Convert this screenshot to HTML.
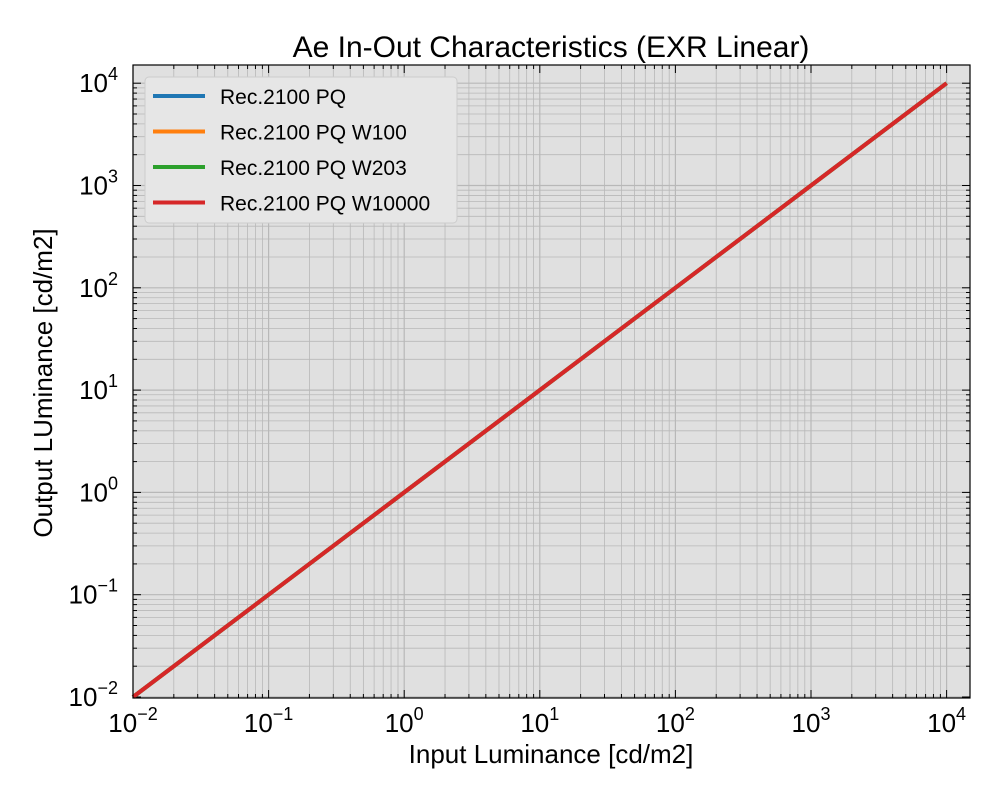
<!DOCTYPE html>
<html><head><meta charset="utf-8"><style>body{margin:0;background:#fff}svg{display:block;font-family:"Liberation Sans","Noto Sans CJK JP",sans-serif}</style></head>
<body>
<svg id="c" width="1000" height="800"></svg>
<script>
const xDecades=[-2,-1,0,1,2,3,4];
const yDecades=[-2,-1,0,1,2,3,4];
const seriesNames=["Rec.2100 PQ","Rec.2100 PQ W100","Rec.2100 PQ W203","Rec.2100 PQ W10000"];
const seriesColors=["#1f77b4","#ff7f0e","#2ca02c","#d62728"];
const inputVals=[0.01,0.1,1,10,100,1000,10000];
const outputVals=[0.01,0.1,1,10,100,1000,10000];
const L=133,R=970,T=65,B=698;
const xs=v=>133+(Math.log10(v)+2)*135.6;
const ys=v=>697-(Math.log10(v)+2)*102.3;
const s=document.getElementById('c');const NS="http://www.w3.org/2000/svg";
function el(t,a,p){const e=document.createElementNS(NS,t);for(const k in a)e.setAttribute(k,a[k]);(p||s).appendChild(e);return e;}
let bg=el('rect',{x:L,y:T,width:R-L,height:B-T,fill:'#e0e0e0'});


const g=el('g',{});


for(let d=-2;d<=4;d++)for(let m=1;m<=9;m++){const v=m*Math.pow(10,d);
 const x=xs(v);if(x<=R&&x>=L){el('line',{x1:x,x2:x,y1:T,y2:B,stroke:'#b8b8b8','stroke-width':m==1?1.2:0.8},g);
  el('line',{x1:x,x2:x,y1:B,y2:B-(m==1?8:4),stroke:'#000'},g);el('line',{x1:x,x2:x,y1:T,y2:T+(m==1?8:4),stroke:'#000'},g);}
 const y=ys(v);if(y>=T&&y<=B){el('line',{x1:L,x2:R,y1:y,y2:y,stroke:'#b8b8b8','stroke-width':m==1?1.2:0.8},g);
  el('line',{x1:L,x2:L+(m==1?8:4),y1:y,y2:y,stroke:'#000'},g);el('line',{x1:R,x2:R-(m==1?8:4),y1:y,y2:y,stroke:'#000'},g);}
}
seriesNames.forEach((n,i)=>{const p=el('polyline',{points:inputVals.map((v,j)=>xs(v)+','+ys(outputVals[j])).join(' '),fill:'none',stroke:seriesColors[i],'stroke-width':4});

});
const fr=el('rect',{x:L,y:T,width:R-L,height:B-T,fill:'none',stroke:'#000','stroke-width':1.2});


xDecades.forEach(d=>{const t=el('text',{x:xs(Math.pow(10,d)),y:732,'font-size':26,'text-anchor':'middle'});t.innerHTML='10<tspan dy="-12" font-size="18">'+(d<0?'−'+(-d):d)+'</tspan>';

});
yDecades.forEach(d=>{const t=el('text',{x:118,y:ys(Math.pow(10,d))+9,'font-size':26,'text-anchor':'end'});t.innerHTML='10<tspan dy="-12" font-size="18">'+(d<0?'−'+(-d):d)+'</tspan>';

});
let t=el('text',{x:551,y:57,'font-size':30,'text-anchor':'middle'});t.textContent='Ae In-Out Characteristics (EXR Linear)';


t=el('text',{x:551,y:763,'font-size':26,'text-anchor':'middle'});t.textContent='Input Luminance [cd/m2]';


t=el('text',{x:52,y:383,'font-size':26,'text-anchor':'middle',transform:'rotate(-90 52 383)'});t.textContent='Output LUminance [cd/m2]';


const lg=el('g',{});


el('rect',{x:145,y:77,width:312,height:146,rx:4,fill:'#e6e6e6',stroke:'#ccc'},lg);
seriesNames.forEach((n,i)=>{const y=96+i*35.5;el('line',{x1:153,x2:205,y1:y,y2:y,stroke:seriesColors[i],'stroke-width':4},lg);
const tx=el('text',{x:220,y:y+8,'font-size':21},lg);tx.textContent=n;

});
</script>
</body></html>
